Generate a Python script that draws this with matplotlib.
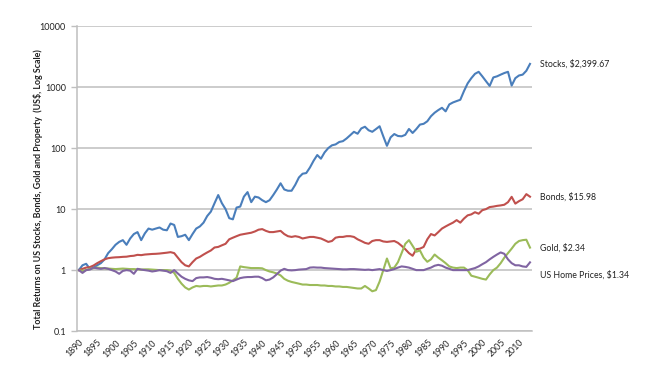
import matplotlib
matplotlib.use("Agg")
import matplotlib.pyplot as plt
import numpy as np

years = list(range(1890, 2014))

stocks = [
    1.0, 1.2, 1.27, 1.05, 1.1, 1.2, 1.3, 1.5, 1.9, 2.2,          # 1890s
    2.6, 2.9, 3.1, 2.6, 3.3, 3.9, 4.2, 3.1, 4.0, 4.8,            # 1900s
    4.6, 4.8, 5.0, 4.6, 4.5, 5.8, 5.5, 3.5, 3.6, 3.8,            # 1910s
    3.1, 3.9, 4.8, 5.2, 6.0, 7.7, 9.1, 12.5, 17.0, 12.5,         # 1920s
    10.0, 7.1, 6.8, 10.6, 11.0, 16.0, 19.0, 13.0, 16.0, 15.5,    # 1930s
    14.0, 13.0, 14.0, 17.0, 21.0, 26.5, 21.0, 20.0, 20.0, 25.0,  # 1940s
    33.0, 38.0, 39.0, 48.0, 62.0, 77.0, 67.0, 85.0, 100.0, 111.0,  # 1950s
    115.0, 126.0, 130.0, 144.0, 163.0, 185.0, 172.0, 210.0, 224.0, 196.0,  # 1960s
    185.0, 205.0, 228.0, 156.0, 109.0, 150.0, 170.0, 158.0, 156.0, 165.0,  # 1970s
    206.0, 177.0, 205.0, 243.0, 250.0, 275.0, 333.0, 380.0, 420.0, 458.0,  # 1980s
    400.0, 520.0, 560.0, 590.0, 620.0, 860.0, 1150.0, 1400.0, 1650.0, 1780.0,  # 1990s
    1500.0, 1250.0, 1045.0, 1440.0, 1500.0, 1600.0, 1700.0, 1780.0, 1060.0, 1400.0,  # 2000s
    1550.0, 1600.0, 1850.0, 2399.67,                              # 2010-2013
]

bonds = [
    1.0, 1.05, 1.1, 1.12, 1.19, 1.3, 1.4, 1.5, 1.57, 1.6,
    1.62, 1.63, 1.65, 1.66, 1.7, 1.72, 1.78, 1.76, 1.8, 1.82,
    1.84, 1.85, 1.87, 1.9, 1.93, 1.97, 1.9, 1.6, 1.35, 1.2,
    1.15, 1.35, 1.55, 1.65, 1.8, 1.95, 2.1, 2.35, 2.4, 2.55,
    2.7, 3.2, 3.4, 3.6, 3.8, 3.9, 4.0, 4.1, 4.3, 4.6,
    4.7, 4.4, 4.2, 4.2, 4.3, 4.4, 3.9, 3.6, 3.5, 3.6,
    3.5, 3.3, 3.4, 3.5, 3.5, 3.4, 3.3, 3.1, 2.9, 3.0,
    3.4, 3.5, 3.5, 3.6, 3.6, 3.5, 3.2, 3.0, 2.8, 2.7,
    3.0, 3.1, 3.1, 2.95, 2.9, 2.95, 3.0, 2.8, 2.5, 2.2,
    1.9, 1.72, 2.2, 2.25, 2.4, 3.2, 3.9, 3.7, 4.2, 4.8,
    5.2, 5.6, 6.0, 6.6, 6.0, 7.0, 7.9, 8.2, 8.9, 8.4,
    9.6, 10.0, 10.8, 11.0, 11.3, 11.5, 11.8, 13.0, 15.9, 12.3,
    13.5, 14.5, 17.6, 15.98,
]

gold = [
    1.0, 0.97, 1.0, 1.05, 1.08, 1.1, 1.08, 1.07, 1.06, 1.05,
    1.04, 1.05, 1.06, 1.05, 1.04, 1.04, 1.03, 1.02, 1.03, 1.03,
    1.02, 1.01, 1.0, 1.0, 1.0, 0.98, 0.9, 0.72, 0.6, 0.52,
    0.48, 0.52, 0.55, 0.54, 0.55, 0.55, 0.54, 0.55, 0.56, 0.56,
    0.58, 0.62, 0.68, 0.75, 1.15, 1.12, 1.1, 1.08, 1.08, 1.08,
    1.07, 1.0, 0.95, 0.92, 0.88, 0.82, 0.72, 0.67, 0.64, 0.62,
    0.6, 0.58, 0.58, 0.57, 0.57, 0.57, 0.56, 0.56, 0.55, 0.55,
    0.54, 0.54, 0.53, 0.53, 0.52, 0.51, 0.5, 0.5, 0.55, 0.5,
    0.45, 0.47, 0.65, 1.0, 1.55, 1.07, 1.1, 1.35, 1.9, 2.7,
    3.1, 2.5, 2.0, 2.1, 1.6, 1.37, 1.5, 1.8, 1.6, 1.45,
    1.3, 1.15, 1.1, 1.08, 1.1, 1.1, 1.0, 0.81, 0.78, 0.75,
    0.72, 0.7, 0.85, 1.0, 1.1, 1.3, 1.6, 1.9, 2.25, 2.7,
    3.0, 3.1, 3.15, 2.34,
]

home = [
    1.0, 0.9, 1.0, 1.02, 1.1, 1.07, 1.05, 1.08, 1.05, 1.0,
    0.95, 0.87, 0.97, 1.0, 0.98, 0.87, 1.05, 1.02, 1.0, 0.98,
    0.95, 0.97, 1.0, 0.98, 0.96, 0.9, 1.0, 0.88, 0.78, 0.72,
    0.68, 0.66, 0.74, 0.76, 0.76, 0.77, 0.75, 0.72, 0.71, 0.72,
    0.7, 0.68, 0.66, 0.7, 0.74, 0.76, 0.77, 0.77, 0.78, 0.78,
    0.74, 0.68, 0.7, 0.76, 0.86, 0.98, 1.05, 1.0, 0.99, 1.0,
    1.02, 1.03, 1.04, 1.1, 1.11, 1.1, 1.1, 1.08, 1.07, 1.06,
    1.05, 1.04, 1.03, 1.03, 1.04, 1.04, 1.03, 1.02, 1.01, 1.02,
    1.0, 1.02, 1.04, 1.0, 0.97, 1.0, 1.04, 1.1, 1.15, 1.13,
    1.1, 1.05, 1.0, 1.0, 1.0, 1.05, 1.1, 1.18, 1.22, 1.18,
    1.1, 1.05, 1.0, 1.0, 1.0, 1.0, 1.0, 1.04, 1.08, 1.15,
    1.25, 1.35, 1.5, 1.65, 1.8, 1.95, 1.85, 1.5, 1.3, 1.2,
    1.2, 1.15, 1.13, 1.34,
]

series_names = ["Stocks", "Bonds", "Gold", "US Home Prices"]
series_labels = ["Stocks, $2,399.67", "Bonds, $15.98", "Gold, $2.34", "US Home Prices, $1.34"]
y_ticks = [0.1, 1, 10, 100, 1000, 10000]
y_tick_labels = ["0.1", "1", "10", "100", "1000", "10000"]
x_ticks = list(range(1890, 2011, 5))
y_label = "Total Returns on US Stocks, Bonds, Gold and Property  (US$, Log Scale)"

colors = ["#4A7EBB", "#C0504D", "#9BBB59", "#8064A2"]
label_offsets = [(7, 0), (7, 0), (7, 0), (7, -9)]

plt.rcParams['font.family'] = ['Lato', 'DejaVu Sans']

fig = plt.figure(figsize=(6.47, 3.78), dpi=100)
ax = fig.add_axes([0.119, 0.124, 0.703, 0.807])

data = [stocks, bonds, gold, home]
for vals, c, lab, off in zip(data, colors, series_labels, label_offsets):
    ax.plot(years, vals, color=c, lw=1.5, solid_joinstyle='round')
    ax.annotate(lab, xy=(years[-1], vals[-1]), xytext=off, textcoords='offset points',
                ha='left', va='center', fontsize=6.3, color='#222222')

ax.set_yscale('log')
ax.set_ylim(0.1, 10000)
ax.set_xlim(1889.5, 2013.5)
ax.set_yticks(y_ticks)
ax.set_yticklabels(y_tick_labels)
ax.yaxis.set_minor_locator(matplotlib.ticker.NullLocator())
ax.set_xticks(x_ticks)
ax.set_xticklabels([str(x) for x in x_ticks], rotation=45, ha='right', va='top',
                   rotation_mode='anchor')
ax.tick_params(axis='x', length=0, pad=5, labelsize=6.3, colors='#222222')
ax.tick_params(axis='y', length=4, width=1, color='#BFBFBF', pad=4, labelsize=6.5,
               labelcolor='#222222')
ax.grid(axis='y', color='#BFBFBF', lw=1.1)
ax.set_axisbelow(True)
for s in ['top', 'right']:
    ax.spines[s].set_visible(False)
ax.spines['left'].set_color('#BFBFBF')
ax.spines['bottom'].set_color('#BFBFBF')
ax.spines['left'].set_linewidth(1.1)
ax.spines['bottom'].set_linewidth(1.1)

fig.text(0.058, 0.5, y_label, rotation=90, ha='center', va='center',
         fontsize=6.4, fontweight='bold', color='#222222')

fig.savefig("out.png", dpi=100)
